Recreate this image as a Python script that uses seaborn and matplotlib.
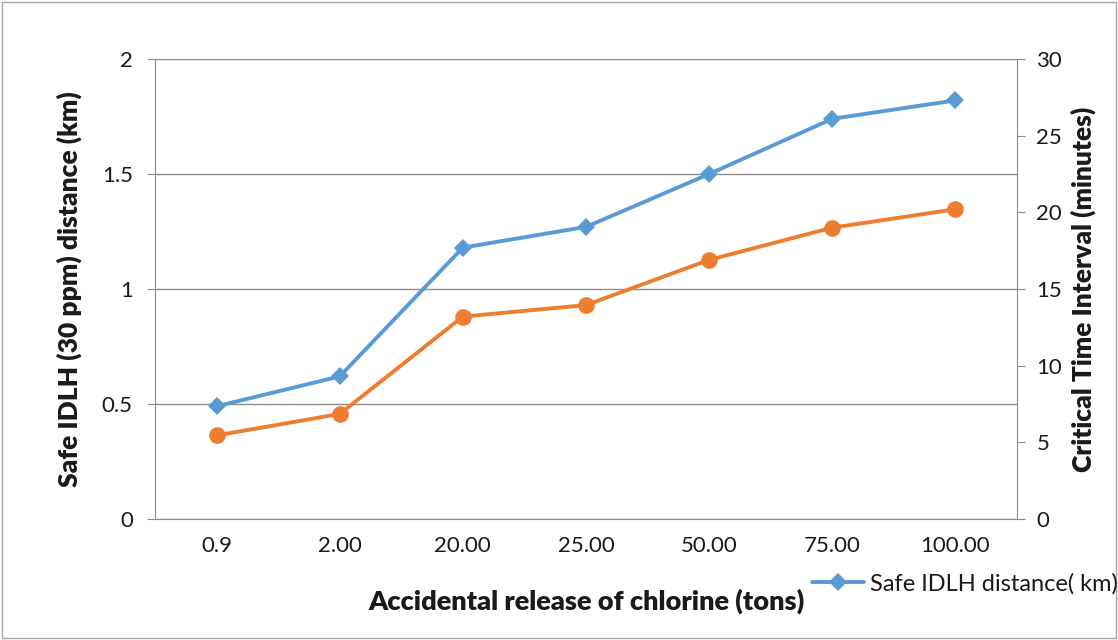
import matplotlib
matplotlib.use("Agg")
import matplotlib.pyplot as plt
import seaborn as sns
import pandas as pd
from matplotlib.lines import Line2D
from matplotlib.patches import Rectangle

categories = ["0.9", "2.00", "20.00", "25.00", "50.00", "75.00", "100.00"]
safe_idlh_km = [0.49, 0.62, 1.18, 1.27, 1.50, 1.74, 1.82]
critical_time_min = [5.45, 6.85, 13.2, 13.95, 16.9, 19.0, 20.2]

sns.set_style("white")
plt.rcParams["font.family"] = ["Lato", "DejaVu Sans"]

df = pd.DataFrame({"pos": range(len(categories)), "cat": categories,
                   "dist": safe_idlh_km, "time": critical_time_min})

fig = plt.figure(figsize=(11.18, 6.4), dpi=100)
ax = fig.add_axes([155/1118, 1-519/640, (1017-155)/1118, (519-59)/640])
ax2 = ax.twinx()

blue = "#5B9BD5"
orange = "#ED7D31"
grid_c = "#8C8C8C"
txt_c = "#1A1A1A"

sns.lineplot(data=df, x="pos", y="dist", ax=ax, color=blue, lw=2.8,
             marker="D", markersize=9.5, markeredgewidth=0, zorder=5)
sns.lineplot(data=df, x="pos", y="time", ax=ax2, color=orange, lw=2.8,
             marker="o", markersize=12, markeredgewidth=0, zorder=5)

ax.set_xlim(-0.5, len(categories) - 0.5)
ax.set_ylim(0, 2)
ax2.set_ylim(0, 30)
ax.set_yticks([0, 0.5, 1, 1.5, 2])
ax.set_yticklabels(["0", "0.5", "1", "1.5", "2"])
ax2.set_yticks([0, 5, 10, 15, 20, 25, 30])
ax.set_xticks(range(len(categories)))
ax.set_xticklabels(categories)
ax.set_xticks([i - 0.5 for i in range(len(categories) + 1)], minor=True)

for a in (ax, ax2):
    for s in a.spines.values():
        s.set_visible(False)
ax.spines["left"].set_visible(True)
ax.spines["left"].set_color(grid_c)
ax.spines["bottom"].set_visible(True)
ax.spines["bottom"].set_color(grid_c)
ax2.spines["right"].set_visible(True)
ax2.spines["right"].set_color(grid_c)

ax.yaxis.grid(True, color=grid_c, lw=1.0)
ax.set_axisbelow(True)
ax.tick_params(axis="x", which="major", length=0, labelsize=16, pad=12)
ax.tick_params(axis="x", which="minor", length=6, color=grid_c, direction="out")
ax.tick_params(axis="y", length=6, color=grid_c, direction="out", labelsize=16, pad=10, left=True)
ax2.tick_params(axis="y", length=6, color=grid_c, direction="out", labelsize=16, pad=8, right=True)
for lbl in ax.get_xticklabels() + ax.get_yticklabels() + ax2.get_yticklabels():
    lbl.set_color(txt_c)

ax.set_xlabel("Accidental release of chlorine (tons)", fontsize=19.5, fontweight="heavy",
              labelpad=24, color=txt_c)
ax.set_ylabel("Safe IDLH (30 ppm) distance (km)", fontsize=19, fontweight="heavy",
              labelpad=14, color=txt_c)
ax2.set_ylabel("Critical Time Interval (minutes)", fontsize=19, fontweight="heavy",
               labelpad=6, color=txt_c)

handle = Line2D([], [], color=blue, lw=2.8, marker="D", markersize=9.5, markeredgewidth=0)
fig.legend([handle], ["Safe IDLH distance( km)"], loc="center left",
           bbox_to_anchor=(803/1118, 1-584/640), frameon=False, fontsize=17,
           handlelength=2.2, handletextpad=0.25, borderaxespad=0,
           labelcolor=txt_c)

fig.patches.append(Rectangle((2/1118, 2/640), 1-4/1118, 1-4/640, transform=fig.transFigure,
                             fill=False, edgecolor="#A6A6A6", lw=1.0))

fig.savefig("out.png", dpi=100)
